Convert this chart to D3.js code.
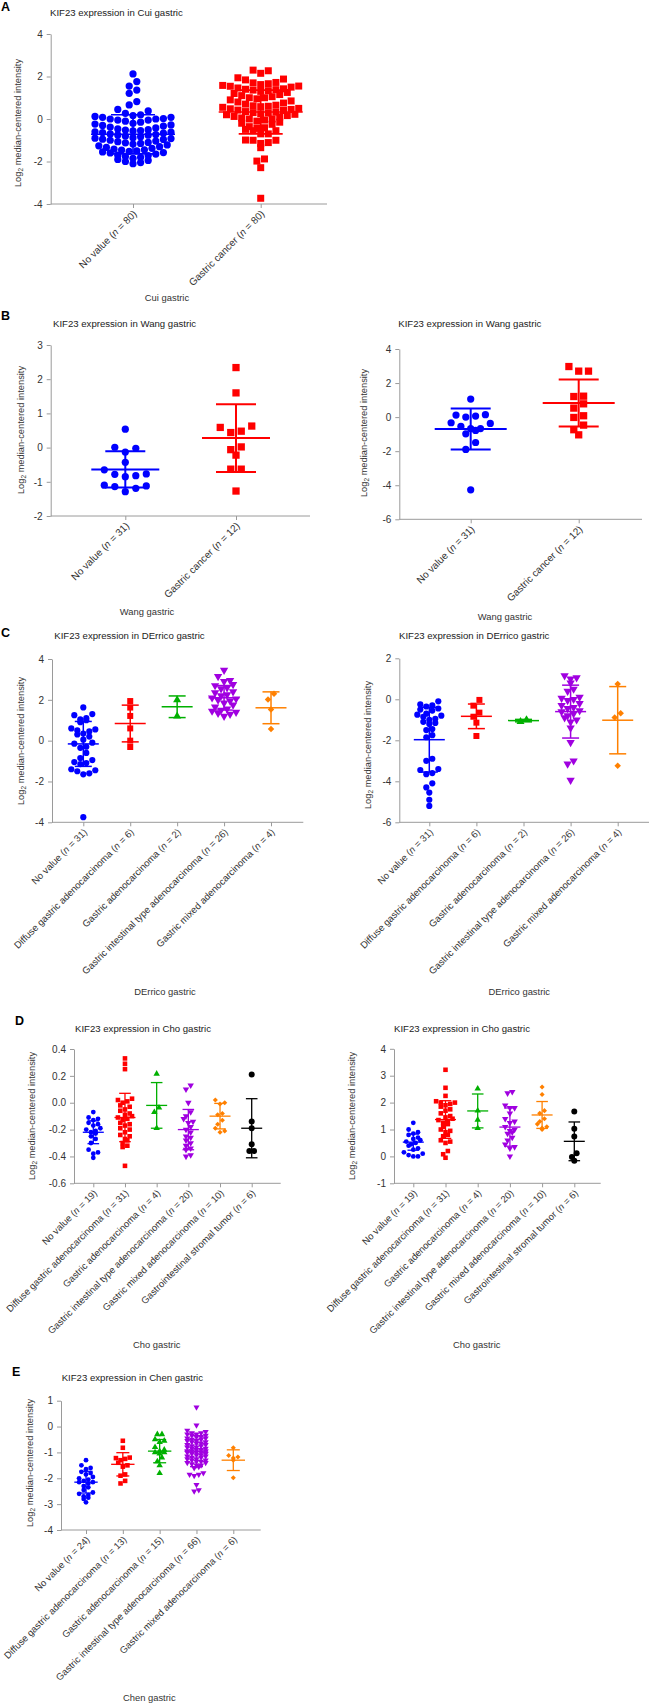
<!DOCTYPE html>
<html><head><meta charset="utf-8">
<script src="https://cdn.jsdelivr.net/npm/d3@7"></script>
<style>
body{margin:0;background:#fff}
svg{display:block}
text{font-family:"Liberation Sans",Arial,sans-serif}
</style>
</head><body>
<svg id="chart" width="650" height="1706"></svg>
<script>
// ---------------- DATA ----------------
// A: Cui gastric
const cuiGroups = ["No value", "Gastric cancer"];
const cuiCounts = [80, 80];
const cuiNoValue = [2.12, 1.76, 1.55, 1.36, 1.21, 0.82, 0.66, 0.45, 0.38,
  0.27, 0.2, 0.16, 0.12, 0.08, 0.08, 0.02, 0.0, 0.0, -0.05, -0.05,
  -0.24, -0.28, -0.33, -0.38, -0.42, -0.47, -0.52, -0.56, -0.6, -0.64, -0.67,
  -0.7, -0.73, -0.76, -0.8, -0.84, -0.88, -0.92, -0.96, -1.0, -1.04, -1.07,
  -1.18, -1.22, -1.26, -1.3, -1.34, -1.38, -1.42, -1.46, -1.5, -1.55, -1.6,
  -1.7, -1.72, -1.76, -1.8, -1.85, -1.9, -1.95, -2.0, -2.05, -2.1,
  -0.1, -0.15, -0.2, -0.55, -0.62, -0.9, -0.95, -1.1, -1.12, -1.15, -1.45, -1.52, -1.58, -1.65, -0.3, -0.5, -0.75];
const cuiCancer = [2.3, 2.27, 2.15, 1.94, 1.88, 1.84,
  1.72, 1.7, 1.66, 1.62, 1.58, 1.55, 1.54, 1.5, 1.46, 1.42, 1.4, 1.38, 1.36,
  1.33, 1.3, 1.25, 1.2, 1.15, 1.1, 1.05, 1.0, 1.0, 0.95, 0.9,
  0.85, 0.8, 0.75, 0.7, 0.65, 0.62, 0.6, 0.58, 0.55, 0.5, 0.48, 0.45, 0.42, 0.4, 0.35,
  0.32, 0.3, 0.28, 0.25, 0.22, 0.2, 0.16, 0.12, 0.1, 0.05, 0.0, 0.0, -0.05, -0.1, -0.15, -0.2, -0.25,
  -0.36, -0.41, -0.44, -0.49, -0.55, -0.55, -0.7, -0.7,
  -0.99, -1.0, -1.0, -1.11, -1.15, -1.35,
  -1.88, -1.98, -2.29, -3.73];
const cuiMean = [-0.72, 0.33];
const cuiSD = [0.92, 1.03];
const cuiTicks = [-4, -2, 0, 2, 4];

// B left: Wang gastric
const wangGroups = ["No value", "Gastric cancer"];
const wangCounts = [31, 12];
const wang1NoValue = [0.54, 0.01, -0.02, -0.13, -0.43, -0.65, -0.77, -0.78, -0.82, -0.85, -1.1, -1.12, -1.14, -1.19, -1.29];
const wang1Cancer = [2.34, 1.6, 0.63, 0.59, 0.48, 0.44, 0.02, -0.06, -0.22, -0.63, -0.63, -1.27];
const wang1Mean = [-0.64, 0.28];
const wang1SD = [0.53, 0.99];
const wang1Ticks = [-2, -1, 0, 1, 2, 3];
// B right
const wang2NoValue = [1.06, 0.14, 0.12, 0.06, 0.0, -0.33, -0.37, -0.55, -0.67, -0.68, -0.78, -0.98, -1.49, -1.9, -4.27];
const wang2Cancer = [2.97, 2.7, 2.7, 1.23, 1.21, 0.78, 0.53, 0.08, -0.02, -0.47, -0.74, -1.04];
const wang2Mean = [-0.7, 0.83];
const wang2SD = [1.2, 1.38];
const wang2Ticks = [-6, -4, -2, 0, 2, 4];

// C: DErrico gastric
const derricoGroups = ["No value", "Diffuse gastric adenocarcinoma", "Gastric adenocarcinoma", "Gastric intestinal type adenocarcinoma", "Gastric mixed adenocarcinoma"];
const derricoCounts = [31, 6, 2, 26, 4];
const derrico1NoValue = [1.63, 1.3, 1.25, 1.1, 1.05, 1.0, 0.9, 0.6, 0.55, 0.5, 0.45, 0.35, 0.3, 0.2, 0.05, -0.1, -0.15, -0.3, -0.35, -0.6, -0.85, -0.95, -1.05, -1.1, -1.15, -1.4, -1.45, -1.5, -1.6, -1.65, -3.75];
const derrico1Diffuse = [1.94, 1.62, 1.21, 0.6, 0.0, -0.31];
const derrico1Adeno = [2.0, 1.2];
const derrico1Intestinal = [3.45, 3.15, 2.95, 2.9, 2.75, 2.7, 2.6, 2.55, 2.4, 2.35, 2.25, 2.2, 2.1, 2.05, 2.0, 1.95, 1.85, 1.75, 1.65, 1.55, 1.5, 1.45, 1.4, 1.35, 1.3, 1.2];
const derrico1Mixed = [2.3, 2.02, 1.53, 0.57];
const derrico1Mean = [-0.16, 0.84, 1.66, 2.1, 1.61];
const derrico1SD = [1.1, 0.9, 0.53, 0.6, 0.78];
const derrico1Ticks = [-4, -2, 0, 2, 4];
const derrico2NoValue = [-0.1, -0.25, -0.3, -0.35, -0.45, -0.5, -0.55, -0.7, -0.75, -0.8, -0.85, -0.95, -1.0, -1.1, -1.15, -1.2, -1.45, -1.5, -1.75, -1.85, -2.9, -3.0, -3.4, -3.45, -3.6, -3.65, -4.1, -4.3, -4.55, -4.9, -5.2];
const derrico2Diffuse = [-0.03, -0.31, -0.65, -0.85, -1.14, -1.79];
const derrico2Adeno = [-1.0, -1.09];
const derrico2Intestinal = [1.15, 1.05, 1.0, 0.8, 0.5, 0.4, 0.1, 0.05, 0.0, -0.05, -0.2, -0.3, -0.4, -0.45, -0.55, -0.6, -0.7, -0.8, -0.9, -1.0, -1.1, -1.4, -2.1, -3.0, -3.15, -3.95];
const derrico2Mixed = [0.75, -0.68, -0.89, -3.24];
const derrico2Mean = [-1.97, -0.83, -1.04, -0.6, -1.02];
const derrico2SD = [1.58, 0.6, 0.06, 1.29, 1.64];
const derrico2Ticks = [-6, -4, -2, 0, 2];

// D: Cho gastric
const choGroups = ["No value", "Diffuse gastric adenocarcinoma", "Gastric adenocarcinoma", "Gastric intestinal type adenocarcinoma", "Gastric mixed adenocarcinoma", "Gastrointestinal stromal tumor"];
const choCounts = [19, 31, 4, 20, 10, 6];
const cho1NoValue = [-0.07, -0.11, -0.12, -0.13, -0.15, -0.16, -0.17, -0.19, -0.2, -0.21, -0.22, -0.23, -0.25, -0.27, -0.3, -0.35, -0.37, -0.38, -0.41];
const cho1Diffuse = [0.33, 0.29, 0.25, 0.03, 0.02, 0.01, 0.0, -0.02, -0.03, -0.05, -0.06, -0.08, -0.09, -0.1, -0.11, -0.12, -0.13, -0.15, -0.16, -0.17, -0.19, -0.2, -0.22, -0.24, -0.25, -0.27, -0.28, -0.3, -0.32, -0.33, -0.47];
const cho1Adeno = [0.215, -0.037, -0.07, -0.19];
const cho1Intestinal = [0.13, 0.1, 0.0, -0.07, -0.1, -0.12, -0.14, -0.15, -0.18, -0.2, -0.22, -0.25, -0.26, -0.28, -0.3, -0.32, -0.34, -0.35, -0.39, -0.4];
const cho1Mixed = [0.02, 0.0, -0.01, -0.08, -0.09, -0.13, -0.16, -0.19, -0.21, -0.22];
const cho1Stromal = [0.21, -0.14, -0.19, -0.31, -0.36, -0.36];
const cho1Mean = [-0.22, -0.11, -0.02, -0.2, -0.1, -0.19];
const cho1SD = [0.085, 0.18, 0.17, 0.15, 0.095, 0.22];
const cho1Ticks = [-0.6, -0.4, -0.2, 0.0, 0.2, 0.4];
const cho2NoValue = [1.25, 1.0, 0.9, 0.85, 0.8, 0.7, 0.65, 0.6, 0.55, 0.5, 0.45, 0.4, 0.3, 0.25, 0.15, 0.1, 0.05, 0.0, 0.0];
const cho2Diffuse = [3.22, 2.55, 2.25, 2.05, 2.0, 2.0, 1.95, 1.9, 1.85, 1.75, 1.7, 1.6, 1.5, 1.45, 1.4, 1.35, 1.3, 1.25, 1.2, 1.1, 1.0, 0.95, 0.9, 0.8, 0.75, 0.6, 0.55, 0.5, 0.2, 0.08, -0.05];
const cho2Adeno = [2.52, 1.7, 1.36, 1.05];
const cho2Intestinal = [2.4, 2.35, 1.9, 1.8, 1.8, 1.6, 1.4, 1.3, 1.25, 1.1, 1.0, 0.95, 0.9, 0.85, 0.7, 0.6, 0.45, 0.35, 0.3, 0.0];
const cho2Mixed = [2.58, 2.3, 1.7, 1.6, 1.4, 1.3, 1.2, 1.1, 1.05, 1.0];
const cho2Stromal = [1.67, 1.03, 0.74, 0.12, -0.02, -0.16];
const cho2Mean = [0.53, 1.37, 1.69, 1.09, 1.54, 0.56];
const cho2SD = [0.3, 0.7, 0.63, 0.71, 0.5, 0.72];
const cho2Ticks = [-1, 0, 1, 2, 3, 4];

// E: Chen gastric
const chenGroups = ["No value", "Diffuse gastric adenocarcinoma", "Gastric adenocarcinoma", "Gastric intestinal type adenocarcinoma", "Gastric mixed adenocarcinoma"];
const chenCounts = [24, 13, 15, 66, 6];
const chenNoValue = [-1.3, -1.5, -1.6, -1.65, -1.75, -1.8, -1.85, -1.95, -2.0, -2.05, -2.1, -2.15, -2.15, -2.2, -2.3, -2.35, -2.45, -2.55, -2.6, -2.65, -2.7, -2.75, -2.8, -2.93];
const chenDiffuse = [-0.55, -0.82, -1.2, -1.22, -1.25, -1.3, -1.4, -1.5, -1.55, -1.85, -1.9, -2.1, -2.2];
const chenAdeno = [-0.3, -0.3, -0.5, -0.55, -0.6, -0.8, -0.9, -0.95, -1.0, -1.0, -1.05, -1.2, -1.35, -1.5, -1.8];
const chenIntestinal = [0.75, 0.05, -0.2, -0.25, -0.3, -0.3, -0.35, -0.4, -0.4, -0.45,
  -0.5, -0.5, -0.55, -0.55, -0.6, -0.6, -0.65, -0.65, -0.7, -0.7,
  -0.75, -0.75, -0.8, -0.8, -0.85, -0.85, -0.9, -0.9, -0.95, -0.95,
  -1.0, -1.0, -1.0, -1.05, -1.05, -1.1, -1.1, -1.15, -1.15, -1.2,
  -1.2, -1.25, -1.25, -1.3, -1.3, -1.35, -1.4, -1.4, -1.45, -1.5,
  -1.5, -1.55, -1.6, -0.15, -0.25, -0.35, -0.45, -0.95, -1.35, -1.8,
  -1.85, -1.85, -1.9, -2.25, -2.5, -2.45];
const chenMixed = [-0.82, -1.12, -1.18, -1.22, -1.3, -1.98];
const chenMean = [-2.15, -1.46, -0.95, -0.95, -1.3];
const chenSD = [0.42, 0.45, 0.45, 0.6, 0.4];
const chenTicks = [-4, -3, -2, -1, 0, 1];

// ---------------- DRAWING ----------------
const svg = d3.select("#chart");
const COLORS = {blue: "#0000ff", red: "#ff0000", green: "#00b000", purple: "#a000e0", orange: "#ff8000", black: "#000000"};
const SHAPES = {circle: d3.symbolCircle, square: d3.symbolSquare, triangle: d3.symbolTriangle, triDown: d3.symbolTriangle, diamond: d3.symbolSquare};
const ROT = {circle: 0, square: 0, triangle: 0, triDown: 180, diamond: 45};
const AXIS = "#9a9a9a";
const TXT = "#333";
const FONT = '"Liberation Sans",Arial,sans-serif';

function swarm(values, yScale, binPx, maxN, dx) {
  const sorted = values.slice().sort((a, b) => b - a);
  const rows = [];
  for (const v of sorted) {
    const cur = rows[rows.length - 1];
    if (cur && Math.abs(yScale(v) - yScale(cur.top)) <= binPx && cur.items.length < maxN) cur.items.push(v);
    else rows.push({top: v, items: [v]});
  }
  const out = [];
  for (const r of rows) {
    const items = r.items.slice().sort((a, b) => a - b);
    const k = items.length;
    items.forEach((v, i) => {
      let s;
      if (k % 2 === 1) s = i === 0 ? 0 : (i % 2 === 1 ? (i + 1) / 2 : -i / 2);
      else s = (i % 2 === 0 ? -(i / 2 + 0.5) : ((i - 1) / 2 + 0.5));
      out.push({v, off: s * dx});
    });
  }
  return out;
}

function drawPanel(p) {
  const g = svg.append("g");
  const y = d3.scaleLinear().domain(p.domain).range([p.yBot, p.yTop]);
  const x = d3.scalePoint().domain(p.groups).range(p.catRange);

  if (p.letter) g.append("text").attr("x", p.letterX).attr("y", p.letterY)
    .attr("font-size", 12.5).attr("font-weight", "bold").attr("fill", "#000").text(p.letter);
  g.append("text").attr("x", p.titleX).attr("y", p.titleY).attr("font-size", 9.6).attr("fill", "#222").text(p.title);

  const ya = g.append("g").attr("transform", `translate(${p.x0},0)`)
    .call(d3.axisLeft(y).tickValues(p.ticks).tickSize(4).tickSizeOuter(0).tickPadding(4).tickFormat(p.fmt));
  ya.select(".domain").attr("stroke", AXIS);
  ya.selectAll(".tick line").attr("stroke", AXIS);
  ya.selectAll(".tick text").attr("font-size", 10).attr("fill", TXT).attr("font-family", FONT);

  const yb = y(p.domain[0]);
  g.append("line").attr("x1", p.x0).attr("x2", p.x1).attr("y1", yb).attr("y2", yb).attr("stroke", AXIS);
  const xa = g.append("g").attr("transform", `translate(0,${yb})`)
    .call(d3.axisBottom(x).tickSize(4).tickSizeOuter(0).tickFormat(""));
  xa.select(".domain").remove();
  xa.selectAll(".tick line").attr("stroke", AXIS);

  p.groups.forEach((name, i) => {
    const t = g.append("text")
      .attr("transform", `translate(${x(name) + 2},${yb + 8}) rotate(-45)`)
      .attr("text-anchor", "end").attr("dy", "0.35em")
      .attr("font-size", p.labelFont).attr("fill", TXT);
    t.append("tspan").text(name + " (");
    t.append("tspan").attr("font-style", "italic").text("n");
    t.append("tspan").text(" = " + p.counts[i] + ")");
  });

  const yl = g.append("text")
    .attr("transform", `translate(${p.ylabX + 3},${p.ylabY}) rotate(-90)`)
    .attr("text-anchor", "middle").attr("font-size", 9.3).attr("fill", TXT);
  yl.append("tspan").text("Log");
  yl.append("tspan").attr("font-size", 6.5).attr("dy", 2).text("2");
  yl.append("tspan").attr("dy", -2).text(" median-centered intensity");

  g.append("text").attr("x", p.xtX).attr("y", p.xtY).attr("text-anchor", "middle")
    .attr("font-size", 9.4).attr("fill", TXT).text(p.xtitle);

  p.series.forEach((vals, i) => {
    const cx = x(p.groups[i]);
    const pts = swarm(vals, y, p.binPx, p.maxN, p.dx);
    const shp = p.shapes[i];
    const sym = d3.symbol().type(SHAPES[shp]).size(p.sizes[i]);
    g.append("g").selectAll("path").data(pts).join("path")
      .attr("d", sym)
      .attr("transform", d => `translate(${cx + d.off},${y(d.v)}) rotate(${ROT[shp]})`)
      .attr("fill", COLORS[p.colors[i]]);
  });

  p.groups.forEach((name, i) => {
    const cx = x(name);
    const m = p.means[i], s = p.sds[i];
    const col = COLORS[p.colors[i]];
    const eg = g.append("g").attr("stroke", col).attr("stroke-width", p.sw);
    eg.append("line").attr("x1", cx).attr("x2", cx).attr("y1", y(m + s)).attr("y2", y(m - s));
    eg.append("line").attr("x1", cx - p.meanHalf).attr("x2", cx + p.meanHalf).attr("y1", y(m)).attr("y2", y(m));
    eg.append("line").attr("x1", cx - p.capHalf).attr("x2", cx + p.capHalf).attr("y1", y(m + s)).attr("y2", y(m + s));
    eg.append("line").attr("x1", cx - p.capHalf).attr("x2", cx + p.capHalf).attr("y1", y(m - s)).attr("y2", y(m - s));
  });
}

const fmtInt = d => String(d);
const fmt1 = d => d.toFixed(1);
const c2 = ["blue", "red"], s2 = ["circle", "square"];
const c5 = ["blue", "red", "green", "purple", "orange"], s5 = ["circle", "square", "triangle", "triDown", "diamond"];
const c6 = ["blue", "red", "green", "purple", "orange", "black"], s6 = ["circle", "square", "triangle", "triDown", "diamond", "circle"];

drawPanel({letter: "A", letterX: 1, letterY: 11, title: "KIF23 expression in Cui gastric", titleX: 50, titleY: 16,
  groups: cuiGroups, counts: cuiCounts, series: [cuiNoValue, cuiCancer], means: cuiMean, sds: cuiSD,
  colors: c2, shapes: s2, sizes: [41, 49], domain: [-4, 4], ticks: cuiTicks, fmt: fmtInt,
  x0: 50.7, x1: 327, yTop: 34, yBot: 204, catRange: [133, 260.7],
  ylabX: 18, ylabY: 123, xtitle: "Cui gastric", xtX: 167, xtY: 301,
  binPx: 7, maxN: 11, dx: 7.6, meanHalf: 42, capHalf: 22, sw: 1.6, labelFont: 10});

drawPanel({letter: "B", letterX: 1, letterY: 320, title: "KIF23 expression in Wang gastric", titleX: 53, titleY: 327,
  groups: wangGroups, counts: wangCounts, series: [wang1NoValue, wang1Cancer], means: wang1Mean, sds: wang1SD,
  colors: c2, shapes: s2, sizes: [41, 53], domain: [-2, 3], ticks: wang1Ticks, fmt: fmtInt,
  x0: 50.7, x1: 310, yTop: 345, yBot: 516, catRange: [125.3, 236],
  ylabX: 20.7, ylabY: 430, xtitle: "Wang gastric", xtX: 147, xtY: 615,
  binPx: 7, maxN: 5, dx: 10.5, meanHalf: 34, capHalf: 20, sw: 2, labelFont: 10});

drawPanel({title: "KIF23 expression in Wang gastric", titleX: 398.3, titleY: 327,
  groups: wangGroups, counts: wangCounts, series: [wang2NoValue, wang2Cancer], means: wang2Mean, sds: wang2SD,
  colors: c2, shapes: s2, sizes: [41, 53], domain: [-6, 4], ticks: wang2Ticks, fmt: fmtInt,
  x0: 399.3, x1: 642, yTop: 349, yBot: 519.3, catRange: [470.7, 578.7],
  ylabX: 364.3, ylabY: 433, xtitle: "Wang gastric", xtX: 505, xtY: 620,
  binPx: 7, maxN: 5, dx: 9.8, meanHalf: 36, capHalf: 20, sw: 2, labelFont: 10});

drawPanel({letter: "C", letterX: 1, letterY: 637, title: "KIF23 expression in DErrico gastric", titleX: 54.3, titleY: 639,
  groups: derricoGroups, counts: derricoCounts,
  series: [derrico1NoValue, derrico1Diffuse, derrico1Adeno, derrico1Intestinal, derrico1Mixed],
  means: derrico1Mean, sds: derrico1SD,
  colors: c5, shapes: s5, sizes: [30, 36, 28, 30, 21], domain: [-4, 4], ticks: derrico1Ticks, fmt: fmtInt,
  x0: 52, x1: 303.3, yTop: 659, yBot: 822.3, catRange: [83.3, 271],
  ylabX: 20.7, ylabY: 741, xtitle: "DErrico gastric", xtX: 165, xtY: 995,
  binPx: 6, maxN: 6, dx: 6, meanHalf: 15.5, capHalf: 8.5, sw: 1.5, labelFont: 9.6});

drawPanel({title: "KIF23 expression in DErrico gastric", titleX: 399, titleY: 639,
  groups: derricoGroups, counts: derricoCounts,
  series: [derrico2NoValue, derrico2Diffuse, derrico2Adeno, derrico2Intestinal, derrico2Mixed],
  means: derrico2Mean, sds: derrico2SD,
  colors: c5, shapes: s5, sizes: [30, 36, 28, 30, 21], domain: [-6, 2], ticks: derrico2Ticks, fmt: fmtInt,
  x0: 399.3, x1: 649, yTop: 658.3, yBot: 822.3, catRange: [429.3, 617.7],
  ylabX: 368.3, ylabY: 745, xtitle: "DErrico gastric", xtX: 519.3, xtY: 995,
  binPx: 6, maxN: 6, dx: 6, meanHalf: 15.5, capHalf: 8.5, sw: 1.5, labelFont: 9.6});

drawPanel({letter: "D", letterX: 15, letterY: 1025, title: "KIF23 expression in Cho gastric", titleX: 75, titleY: 1031.5,
  groups: choGroups, counts: choCounts,
  series: [cho1NoValue, cho1Diffuse, cho1Adeno, cho1Intestinal, cho1Mixed, cho1Stromal],
  means: cho1Mean, sds: cho1SD,
  colors: c6, shapes: s6, sizes: [18, 21, 18, 18, 13, 28], domain: [-0.6, 0.4], ticks: cho1Ticks, fmt: fmt1,
  x0: 74, x1: 280.7, yTop: 1049, yBot: 1183.3, catRange: [93.3, 251.7],
  ylabX: 32.3, ylabY: 1116, xtitle: "Cho gastric", xtX: 156.7, xtY: 1348,
  binPx: 4.5, maxN: 5, dx: 4.7, meanHalf: 10.5, capHalf: 5.8, sw: 1.3, labelFont: 9.5});

drawPanel({title: "KIF23 expression in Cho gastric", titleX: 394, titleY: 1031.5,
  groups: choGroups, counts: choCounts,
  series: [cho2NoValue, cho2Diffuse, cho2Adeno, cho2Intestinal, cho2Mixed, cho2Stromal],
  means: cho2Mean, sds: cho2SD,
  colors: c6, shapes: s6, sizes: [18, 21, 18, 18, 13, 28], domain: [-1, 4], ticks: cho2Ticks, fmt: fmtInt,
  x0: 394, x1: 600.7, yTop: 1048.8, yBot: 1183.3, catRange: [413.3, 574.3],
  ylabX: 352.3, ylabY: 1116, xtitle: "Cho gastric", xtX: 476.7, xtY: 1348,
  binPx: 4.5, maxN: 5, dx: 4.7, meanHalf: 10.5, capHalf: 5.8, sw: 1.3, labelFont: 9.5});

drawPanel({letter: "E", letterX: 12, letterY: 1376, title: "KIF23 expression in Chen gastric", titleX: 61.7, titleY: 1381,
  groups: chenGroups, counts: chenCounts,
  series: [chenNoValue, chenDiffuse, chenAdeno, chenIntestinal, chenMixed],
  means: chenMean, sds: chenSD,
  colors: c5, shapes: s5, sizes: [18, 21, 18, 16, 13], domain: [-4, 1], ticks: chenTicks, fmt: fmtInt,
  x0: 61, x1: 260.7, yTop: 1400.7, yBot: 1530, catRange: [86, 233.3],
  ylabX: 30, ylabY: 1463, xtitle: "Chen gastric", xtX: 149.3, xtY: 1701,
  binPx: 4.5, maxN: 5, dx: 4.6, meanHalf: 11.7, capHalf: 6.5, sw: 1.3, labelFont: 9.5});
</script>
</body></html>
